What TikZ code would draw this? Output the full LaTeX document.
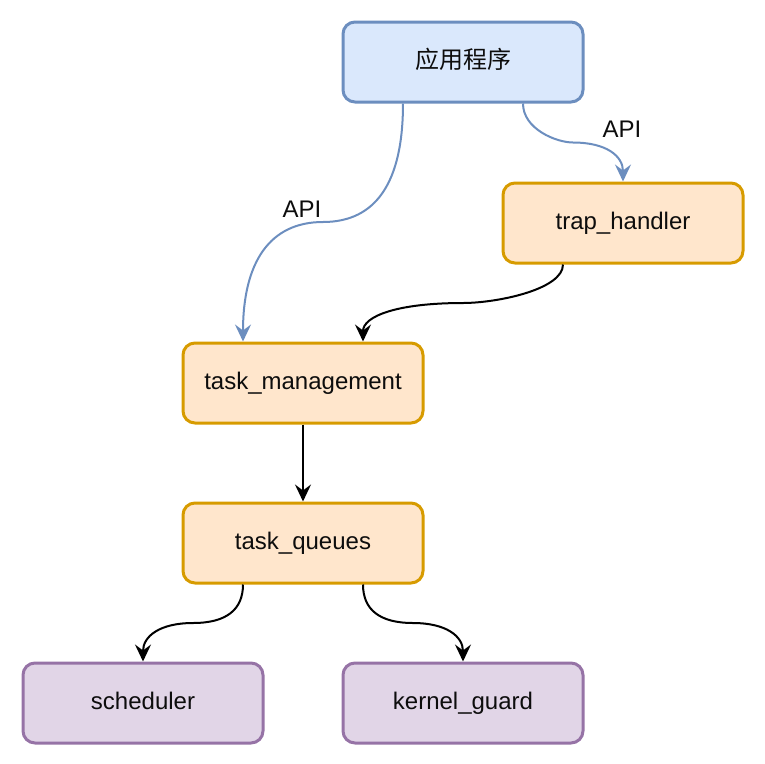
\documentclass[tikz,border=0pt]{standalone}
\usepackage{fontspec}
\setmainfont{Liberation Sans}
\newfontfamily\cjk{Noto Sans CJK SC}
\usetikzlibrary{arrows.meta}
\definecolor{bluefill}{HTML}{DAE8FC}
\definecolor{bluestroke}{HTML}{6C8EBF}
\definecolor{orfill}{HTML}{FFE6CC}
\definecolor{orstroke}{HTML}{D79B00}
\definecolor{pufill}{HTML}{E1D5E7}
\definecolor{pustroke}{HTML}{9673A6}
\tikzset{
  box/.style={draw, rounded corners=12pt, line width=3pt, minimum width=240pt, minimum height=80pt, inner sep=0pt, text height=17pt, text depth=3.6pt, font=\fontsize{24}{28}\selectfont, text=black!95},
  bluebox/.style={box, fill=bluefill, draw=bluestroke},
  orbox/.style={box, fill=orfill, draw=orstroke},
  pubox/.style={box, fill=pufill, draw=pustroke},
  conn/.style={line width=2pt, -{Stealth[length=17pt,width=16pt,inset=6pt]}},
  api/.style={conn, draw=bluestroke},
  lbl/.style={font=\fontsize{24}{28}\selectfont, text=black!95, inner sep=0pt, text height=17pt, text depth=3.6pt}
}
\begin{document}
\begin{tikzpicture}[x=1pt,y=-1pt]
\useasboundingbox (0,0) rectangle (764,764);
\node[bluebox] (app) at (463,62) {\cjk 应用程序};
\node[orbox] (trap) at (623,223) {trap\_handler};
\node[orbox] (tm) at (303,383) {task\_management};
\node[orbox] (tq) at (303,543) {task\_queues};
\node[pubox] (sch) at (143,703) {scheduler};
\node[pubox] (kg) at (463,703) {kernel\_guard};

\draw[api] ([xshift=-60pt]app.south) .. controls (403,182) and (376.3,222) .. (323,222)
  .. controls (269.7,222) and (243,262.3) .. ([xshift=-60pt]tm.north);
\node[lbl] (api1) at (302,211) {API};

\draw[api] ([xshift=60pt]app.south) .. controls (523,129) and (556.3,142.5) .. (573,142.5)
  .. controls (606.3,142.5) and (623,156) .. (trap.north);
\node[lbl] (api2) at (622,131) {API};

\draw[conn] ([xshift=-60pt]trap.south) .. controls (563,289.7) and (496.3,303) .. (463,303)
  .. controls (396.7,303) and (363,316.3) .. ([xshift=60pt]tm.north);

\draw[conn] (tm.south) -- (tq.north);

\draw[conn] ([xshift=-60pt]tq.south) .. controls (243,609.7) and (226.3,623) .. (193,623)
  .. controls (159.7,623) and (143,636.3) .. (sch.north);

\draw[conn] ([xshift=60pt]tq.south) .. controls (363,609.7) and (379.7,623) .. (413,623)
  .. controls (446.3,623) and (463,636.3) .. (kg.north);
\end{tikzpicture}
\end{document}
